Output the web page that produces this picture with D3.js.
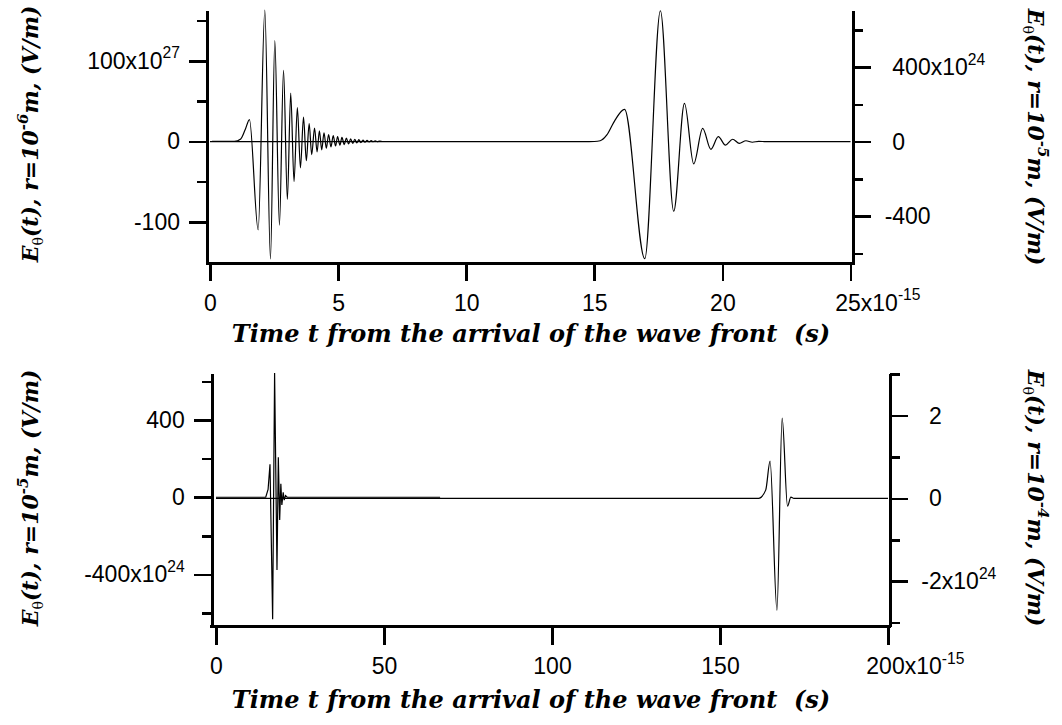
<!DOCTYPE html>
<html><head><meta charset="utf-8">
<script src="https://cdn.jsdelivr.net/npm/d3@7"></script>
<style>
body{margin:0;background:#fff}
svg{display:block}
text{white-space:pre}
</style>
</head><body>
<svg id="c" width="1062" height="725"></svg>
<script>
// ---------------- DATA ----------------
// Top panel, r = 1e-6 m (left axis), time in fs
const topTimeA = [0.08, 0.95, 1.2, 1.38, 1.54, 1.88, 2.14, 2.36, 2.53, 2.71, 2.87, 3.02, 3.15, 3.28, 3.41, 3.53, 3.65, 3.76, 3.87, 3.97, 4.08, 4.18, 4.27, 4.36, 4.45, 4.54, 4.63, 4.72, 4.81, 4.90, 4.98, 5.07, 5.15, 5.24, 5.32, 5.41, 5.49, 5.57, 5.65, 5.73, 5.81, 5.89, 5.97, 6.05, 6.13, 6.21, 6.29, 6.37, 6.45, 6.53, 6.62, 6.7];
const topFieldA = [0, 0, 3, 15, 27, -110, 163, -146, 125, -104, 88, -72, 60, -50, 42, -33, 30, -24, 22, -16.5, 16.5, -13, 13, -10.5, 10.5, -8.5, 8.5, -7, 7, -5.8, 5.8, -4.8, 4.8, -4, 4, -3.2, 3.2, -2.6, 2.6, -2, 2, -1.5, 1.5, -1.1, 1.1, -0.8, 0.8, -0.5, 0.5, -0.3, 0.2, 0];
// Top panel, r = 1e-5 m (right axis)
const topTimeB = [0, 14.6, 15.0, 15.23, 15.49, 15.81, 16.18, 16.97, 17.58, 18.1, 18.52, 18.88, 19.23, 19.55, 19.84, 20.12, 20.4, 20.66, 20.92, 21.17, 21.42, 21.7, 25];
const topFieldB = [0, 0, 1, 5, 36, 116, 173, -627, 702, -373, 205, -119, 71, -41, 27, -18, 13, -9, 5, -3, 2, 0, 0];
// Bottom panel, r = 1e-5 m (left axis)
const botTimeC = [0, 14.8, 15.5, 16.07, 16.86, 17.44, 18.15, 18.55, 18.95, 19.3, 19.6, 20.0, 20.3, 20.7, 21.2, 66.7];
const botFieldC = [0, 0, 40, 171, -631, 643, -376, 207, -118, 70, -40, 25, -15, 8, 0, 0];
// Bottom panel, r = 1e-4 m (right axis)
const botTimeD = [0, 161.5, 163.6, 164.9, 166.95, 168.5, 170.1, 171.1, 172, 200];
const botFieldD = [0, 0, 0.2, 0.9, -2.7, 1.94, -0.19, 0.03, 0, 0];

// Ticks and labels
const topTimeTicks = [0, 5, 10, 15, 20, 25];
const topTimeLabels = ["0", "5", "10", "15", "20", "25x10^-15"];
const topLeftTicks = [-100, 0, 100];
const topLeftLabels = ["-100", "0", "100x10^27"];
const topLeftMinor = [-50, 50, 150];
const topRightTicks = [-400, 0, 400];
const topRightLabels = ["-400", "0", "400x10^24"];
const topRightMinor = [-600, -200, 200, 600];
const botTimeTicks = [0, 50, 100, 150, 200];
const botTimeLabels = ["0", "50", "100", "150", "200x10^-15"];
const botLeftTicks = [-400, 0, 400];
const botLeftLabels = ["-400x10^24", "0", "400"];
const botLeftMinor = [-600, -200, 200, 600];
const botRightTicks = [-2, 0, 2];
const botRightLabels = ["-2x10^24", "0", "2"];
const botRightMinor = [-3, -1, 1, 3];

const xTitle = "Time t from the arrival of the wave front  (s)";

// ---------------- LAYOUT ----------------
const svg = d3.select("#c");
const TICK_FONT = "'Liberation Sans', Arial, Helvetica, sans-serif";
const TITLE_FONT = "'DejaVu Serif', 'Liberation Serif', serif";
const FS = 23;
const AX_W = 2.6;

const panels = [
  {
    xDom: [0, 25], xRange: [210, 850.5], leftX: 207, rightX: 853.3, top: 10, bottom: 263.3,
    yLDom: [-151.4, 163], yRDom: [-652, 706],
    xTicks: topTimeTicks, xLabels: topTimeLabels,
    lTicks: topLeftTicks, lLabels: topLeftLabels, lMinor: topLeftMinor,
    rTicks: topRightTicks, rLabels: topRightLabels, rMinor: topRightMinor,
    seriesL: [topTimeA, topFieldA], seriesR: [topTimeB, topFieldB], curveL: d3.curveMonotoneX, curveR: d3.curveMonotoneX,
    xTitleY: 342, lTitle: {x: 30, y: 134, exp: "-6"}, rTitle: {x: 1036, y: 137, exp: "-5"}
  },
  {
    xDom: [0, 200], xRange: [216, 888], leftX: 211.7, rightX: 890, top: 373, bottom: 626.7,
    yLDom: [-670, 643], yRDom: [-3.1, 3.03],
    xTicks: botTimeTicks, xLabels: botTimeLabels,
    lTicks: botLeftTicks, lLabels: botLeftLabels, lMinor: botLeftMinor,
    rTicks: botRightTicks, rLabels: botRightLabels, rMinor: botRightMinor,
    seriesL: [botTimeC, botFieldC], seriesR: [botTimeD, botFieldD], curveL: d3.curveLinear, curveR: d3.curveMonotoneX,
    xTitleY: 708, lTitle: {x: 30, y: 498, exp: "-5"}, rTitle: {x: 1036, y: 498, exp: "-4"}
  }
];

function fillLabel(textSel, str) {
  const parts = str.split("^");
  const man = parts[0], exp = parts[1];
  textSel.text(null);
  if (man.includes("x")) {
    const idx = man.indexOf("x");
    textSel.append("tspan").attr("class", "dig").text(man.slice(0, idx));
    textSel.append("tspan").text(man.slice(idx));
  } else {
    textSel.append("tspan").attr("class", "dig").text(man);
  }
  if (exp) {
    textSel.append("tspan").attr("dy", -FS * 0.45).attr("font-size", FS * 0.68).text(exp);
  }
}

function styleAxis(g) {
  g.attr("font-size", FS).attr("font-family", TICK_FONT);
  g.selectAll("line,path").attr("stroke", "#000").attr("stroke-width", AX_W).attr("shape-rendering", "crispEdges");
  g.selectAll("text").attr("fill", "#000");
}

panels.forEach(p => {
  const x = d3.scaleLinear().domain(p.xDom).range(p.xRange);
  const yL = d3.scaleLinear().domain(p.yLDom).range([p.bottom, p.top]);
  const yR = d3.scaleLinear().domain(p.yRDom).range([p.bottom, p.top]);

  // left axis: minor then major
  const gLm = svg.append("g").attr("transform", `translate(${p.leftX},0)`)
    .call(d3.axisLeft(yL).tickValues(p.lMinor).tickSize(10).tickSizeOuter(0).tickFormat(""));
  gLm.select(".domain").remove();
  styleAxis(gLm);
  const gL = svg.append("g").attr("transform", `translate(${p.leftX},0)`)
    .call(d3.axisLeft(yL).tickValues(p.lTicks).tickSize(18).tickPadding(9).tickSizeOuter(0)
      .tickFormat((d, i) => p.lLabels[i]));
  styleAxis(gL);
  gL.selectAll(".tick text").each(function (d, i) { fillLabel(d3.select(this), p.lLabels[i]); });

  // right axis
  const gRm = svg.append("g").attr("transform", `translate(${p.rightX},0)`)
    .call(d3.axisRight(yR).tickValues(p.rMinor).tickSize(10).tickSizeOuter(0).tickFormat(""));
  gRm.select(".domain").remove();
  styleAxis(gRm);
  const gR = svg.append("g").attr("transform", `translate(${p.rightX},0)`)
    .call(d3.axisRight(yR).tickValues(p.rTicks).tickSize(18).tickPadding(21).tickSizeOuter(0)
      .tickFormat((d, i) => p.rLabels[i]));
  styleAxis(gR);
  gR.selectAll(".tick text").each(function (d, i) {
    fillLabel(d3.select(this), p.rLabels[i]);
    if (d < 0) d3.select(this).attr("dx", "-0.333em");
  });

  // bottom axis
  const gX = svg.append("g").attr("transform", `translate(0,${p.bottom})`)
    .call(d3.axisBottom(x).tickValues(p.xTicks).tickSize(18).tickPadding(13).tickSizeOuter(0)
      .tickFormat((d, i) => p.xLabels[i]));
  gX.select(".domain").remove();
  styleAxis(gX);
  gX.selectAll(".tick text").each(function (d, i) {
    const t = d3.select(this);
    fillLabel(t, p.xLabels[i]);
    if (p.xLabels[i].includes("^")) {
      const w = t.select("tspan.dig").node().getComputedTextLength();
      t.attr("text-anchor", "start").attr("x", -w / 2 - 3);
    }
  });
  // baseline of the x axis spanning between the two y axes
  svg.append("line").attr("x1", p.leftX - AX_W / 2).attr("x2", p.rightX + AX_W / 2)
    .attr("y1", p.bottom).attr("y2", p.bottom)
    .attr("stroke", "#000").attr("stroke-width", AX_W).attr("shape-rendering", "crispEdges");

  // data lines
  const drawSeries = (ts, vs, ys, curve) => {
    const pts = ts.map((t, i) => [t, vs[i]]);
    svg.append("path").datum(pts)
      .attr("fill", "none").attr("stroke", "#000").attr("stroke-width", 1.2)
      .attr("d", d3.line().x(d => x(d[0])).y(d => ys(d[1])).curve(curve));
  };
  drawSeries(p.seriesR[0], p.seriesR[1], yR, p.curveR);
  drawSeries(p.seriesL[0], p.seriesL[1], yL, p.curveL);

  // x title
  svg.append("text").attr("x", 531).attr("y", p.xTitleY)
    .attr("text-anchor", "middle").attr("font-family", TITLE_FONT)
    .attr("font-weight", "bold").attr("font-style", "italic").attr("font-size", 24)
    .text(xTitle);

  // y titles
  const yTitle = (cfg, rot) => {
    const t = svg.append("text")
      .attr("transform", `translate(${cfg.x},${cfg.y}) rotate(${rot})`)
      .attr("text-anchor", "middle").attr("font-family", TITLE_FONT)
      .attr("font-weight", "bold").attr("font-style", "italic").attr("font-size", 22)
      .attr("dy", "0.35em");
    t.append("tspan").text("E");
    t.append("tspan").attr("font-style", "normal").attr("font-weight", "normal").attr("font-size", 14).attr("dy", 5).text("θ");
    t.append("tspan").attr("dy", -5).text("(t), r=10");
    t.append("tspan").attr("font-size", 15).attr("dy", -10).text(cfg.exp);
    t.append("tspan").attr("dy", 10).text("m, (V/m)");
  };
  yTitle(p.lTitle, -90);
  yTitle(p.rTitle, 90);
});
</script>
</body></html>
